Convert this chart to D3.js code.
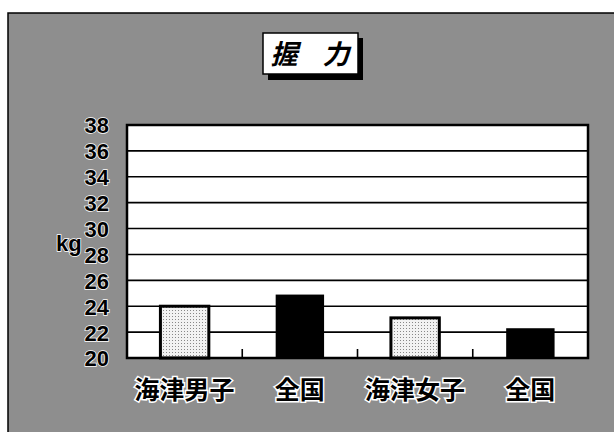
<!DOCTYPE html>
<html><head><meta charset="utf-8">
<script src="https://cdn.jsdelivr.net/npm/d3@7"></script>
<style>html,body{margin:0;padding:0;background:#fff;}svg{display:block;}</style>
</head><body>
<script>
const categories = ["海津男子", "全国", "海津女子", "全国"];
const values = [24.0, 24.9, 23.1, 22.3];
const yTicks = [20, 22, 24, 26, 28, 30, 32, 34, 36, 38];
const titleChars = ["握", "力"];
const unit = "kg";

const W = 614, H = 432;
const svg = d3.select("body").append("svg").attr("width", W).attr("height", H);
const defs = svg.append("defs");
const pat = defs.append("pattern").attr("id","stip").attr("width",3).attr("height",3).attr("patternUnits","userSpaceOnUse");
pat.append("rect").attr("width",3).attr("height",3).attr("fill","#f2f2f2");
pat.append("rect").attr("x",1).attr("y",1).attr("width",1).attr("height",1).attr("fill","#888");

// background frame
svg.append("rect").attr("x",8).attr("y",13).attr("width",W).attr("height",H).attr("fill","#8e8e8e").attr("stroke","#000").attr("stroke-width",1.5);

const m = {l:127, t:125, r:588, b:358};
const x = d3.scaleBand().domain(d3.range(categories.length)).range([m.l, m.r]).paddingInner(0.58).paddingOuter(0.29);
const y = d3.scaleLinear().domain([20, 38]).range([m.b, m.t]);

svg.append("rect").attr("x",m.l).attr("y",m.t).attr("width",m.r-m.l).attr("height",m.b-m.t).attr("fill","#fff");

// gridlines
svg.append("g").selectAll("line").data(yTicks.filter(d=>d>20&&d<38)).join("line")
  .attr("x1",m.l).attr("x2",m.r).attr("y1",d=>y(d)).attr("y2",d=>y(d))
  .attr("stroke","#000").attr("stroke-width",1.6);

// category separators
const step = (m.r-m.l)/categories.length;
svg.append("g").selectAll("line").data(d3.range(1,categories.length)).join("line")
  .attr("x1",d=>m.l+d*step).attr("x2",d=>m.l+d*step).attr("y1",m.b).attr("y2",m.b-9)
  .attr("stroke","#000").attr("stroke-width",1.6);

// bars
svg.append("g").selectAll("rect").data(values).join("rect")
  .attr("x",(d,i)=>x(i)).attr("y",d=>y(d)).attr("width",x.bandwidth()).attr("height",d=>m.b-y(d))
  .attr("fill",(d,i)=>i%2===0?"url(#stip)":"#000")
  .attr("stroke","#000").attr("stroke-width",(d,i)=>i%2===0?3:0);

// plot border
svg.append("rect").attr("x",m.l).attr("y",m.t).attr("width",m.r-m.l).attr("height",m.b-m.t).attr("fill","none").attr("stroke","#000").attr("stroke-width",2.5);

// y axis labels
const yAxis = d3.axisLeft(y).tickValues(yTicks).tickSize(0).tickPadding(0);
const ga = svg.append("g").attr("transform",`translate(${m.l-18},0)`).call(yAxis);
ga.select(".domain").remove();
ga.selectAll("text").attr("font-family","'Liberation Sans Narrow','Liberation Sans',Arial,sans-serif")
  .attr("font-weight","bold").attr("font-size",22).attr("fill","#000")
  .attr("stroke","#fff").attr("stroke-width",1.5).attr("paint-order","stroke").attr("dy","0.36em");

svg.append("text").attr("x",56).attr("y",y(29)+9).text(unit)
  .attr("font-family","'Liberation Sans Narrow','Liberation Sans',Arial,sans-serif")
  .attr("font-weight","bold").attr("font-size",22).attr("fill","#000")
  .attr("stroke","#fff").attr("stroke-width",1.5).attr("paint-order","stroke");

// x labels
svg.append("g").selectAll("text").data(categories).join("text")
  .attr("x",(d,i)=>x(i)+x.bandwidth()/2).attr("y",399).attr("text-anchor","middle")
  .attr("font-family","'Noto Sans CJK JP',sans-serif").attr("font-weight","bold").attr("font-size",25)
  .attr("fill","#000").attr("stroke","#fff").attr("stroke-width",3).attr("paint-order","stroke")
  .text(d=>d);

// title box
svg.append("rect").attr("x",268).attr("y",38).attr("width",95).attr("height",42).attr("fill","#000");
svg.append("rect").attr("x",263).attr("y",33).attr("width",95).attr("height",41).attr("fill","#fff").attr("stroke","#000").attr("stroke-width",1.5);
const tg = svg.append("g").attr("transform","translate(0,64)");
tg.selectAll("text").data(titleChars).join("text")
  .attr("transform",(d,i)=>`translate(${i===0?284:336},0) skewX(-14)`)
  .attr("text-anchor","middle")
  .attr("font-family","'Noto Sans CJK JP',sans-serif").attr("font-weight","bold").attr("font-size",27)
  .attr("fill","#000").text(d=>d);
</script>
</body></html>
